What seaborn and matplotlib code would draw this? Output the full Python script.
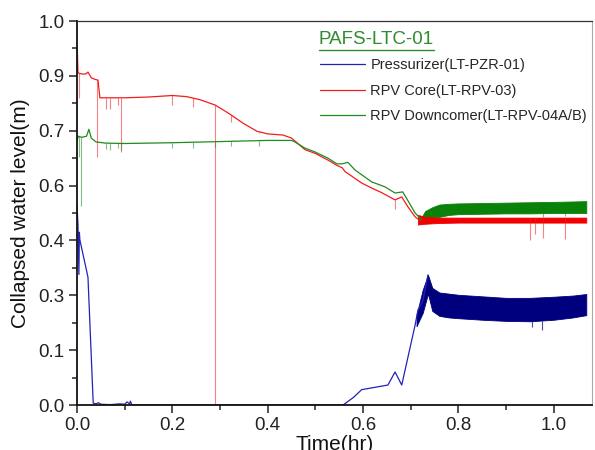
import numpy as np
import pandas as pd
import matplotlib
matplotlib.use("Agg")
import matplotlib.pyplot as plt
import seaborn as sns

# ---------------- data ----------------
# Pressurizer (LT-PZR-01) - line part
pzr_t = [0.0, 0.002, 0.004, 0.005, 0.006, 0.023, 0.034, 0.04, 0.045, 0.05, 0.07,
         0.09, 0.1, 0.105, 0.11, 0.112, 0.115, 0.12, 0.3, 0.558, 0.58, 0.597,
         0.62, 0.652, 0.667, 0.681, 0.695, 0.709, 0.715, 0.725, 0.736]
pzr_v = [0.52, 0.47, 0.34, 0.45, 0.43, 0.333, 0.005, 0.003, 0.006, 0.002, 0.001,
         0.003, 0.002, 0.008, 0.003, 0.010, 0.0, 0.0, 0.0, 0.0, 0.02, 0.04,
         0.045, 0.052, 0.086, 0.052, 0.13, 0.208, 0.247, 0.27, 0.339]
# Pressurizer - oscillating band (envelopes)
pzr_band_t = [0.712, 0.725, 0.736, 0.745, 0.76, 0.78, 0.80, 0.85, 0.90, 0.95, 1.00, 1.04, 1.068]
pzr_band_hi = [0.235, 0.30, 0.339, 0.305, 0.293, 0.290, 0.287, 0.283, 0.279, 0.279, 0.282, 0.285, 0.289]
pzr_band_lo = [0.205, 0.24, 0.29, 0.245, 0.232, 0.228, 0.226, 0.222, 0.219, 0.218, 0.222, 0.228, 0.234]
pzr_spike_t = [0.954, 0.975]
pzr_spike_lo = [0.203, 0.195]

# RPV Core (LT-RPV-03)
core_t = [0.0, 0.0005, 0.002, 0.01, 0.018, 0.023, 0.03, 0.038, 0.044, 0.048, 0.06,
          0.1, 0.15, 0.2, 0.23, 0.258, 0.29, 0.32, 0.348, 0.377, 0.40, 0.432, 0.45,
          0.478, 0.5, 0.526, 0.545, 0.556, 0.562, 0.597, 0.618, 0.639, 0.667, 0.681,
          0.694, 0.709, 0.72]
core_v = [0.87, 0.93, 0.865, 0.862, 0.862, 0.867, 0.852, 0.848, 0.846, 0.80, 0.80,
          0.80, 0.802, 0.806, 0.803, 0.795, 0.781, 0.758, 0.734, 0.713, 0.706, 0.703, 0.695,
          0.665, 0.655, 0.638, 0.624, 0.618, 0.608, 0.578, 0.565, 0.553, 0.534, 0.542,
          0.516, 0.49, 0.48]
core_band_t = [0.715, 0.73, 0.76, 0.80, 0.90, 1.00, 1.068]
core_band_hi = [0.495, 0.490, 0.488, 0.488, 0.488, 0.488, 0.488]
core_band_lo = [0.470, 0.472, 0.474, 0.475, 0.475, 0.475, 0.475]
core_spike_t = [0.004, 0.042, 0.06, 0.07, 0.087, 0.093, 0.2, 0.243, 0.29, 0.323,
                0.382, 0.667, 0.95, 0.96, 0.977, 1.023]
core_spike_lo = [0.80, 0.645, 0.77, 0.77, 0.78, 0.66, 0.78, 0.775, 0.0, 0.737,
                 0.708, 0.51, 0.43, 0.445, 0.435, 0.432]

# RPV Downcomer (LT-RPV-04A/B)
dc_t = [0.0, 0.003, 0.01, 0.02, 0.025, 0.03, 0.04, 0.06, 0.1, 0.2, 0.3, 0.4, 0.45,
        0.457, 0.478, 0.499, 0.526, 0.545, 0.556, 0.568, 0.583, 0.618, 0.646, 0.667,
        0.683, 0.695, 0.709, 0.723]
dc_v = [0.69, 0.70, 0.697, 0.70, 0.718, 0.695, 0.685, 0.682, 0.681, 0.683, 0.686, 0.689, 0.689,
        0.685, 0.669, 0.659, 0.643, 0.628, 0.628, 0.632, 0.612, 0.581, 0.568, 0.552,
        0.555, 0.53, 0.50, 0.482]
dc_band_t = [0.723, 0.73, 0.745, 0.76, 0.78, 0.80, 0.85, 0.90, 0.95, 1.00, 1.04, 1.068]
dc_band_hi = [0.490, 0.505, 0.515, 0.522, 0.524, 0.525, 0.526, 0.527, 0.528, 0.529, 0.530, 0.531]
dc_band_lo = [0.482, 0.485, 0.488, 0.490, 0.495, 0.497, 0.498, 0.499, 0.499, 0.500, 0.500, 0.500]
dc_spike_t = [0.004, 0.008, 0.06, 0.07, 0.087, 0.093, 0.2, 0.243, 0.29, 0.323, 0.382, 0.977, 1.023]
dc_spike_lo = [0.645, 0.518, 0.667, 0.664, 0.670, 0.665, 0.668, 0.670, 0.672, 0.675, 0.675, 0.49, 0.492]

series_names = ["Pressurizer(LT-PZR-01)", "RPV Core(LT-RPV-03)", "RPV Downcomer(LT-RPV-04A/B)"]
legend_title = "PAFS-LTC-01"
ytick_labels = ["0.0", "0.1", "0.3", "0.4", "0.6", "0.7", "0.9", "1.0"]
xtick_labels = ["0.0", "0.2", "0.4", "0.6", "0.8", "1.0"]

# ---------------- style ----------------
sns.set_theme(style="ticks")
plt.rcParams["font.family"] = ["Liberation Sans", "DejaVu Sans"]

c_blue, c_navy = "#2323b4", "#00007f"
c_red = "#f41c1c"
c_green, c_dgreen = "#1e8c1e", "#0a820a"

fig = plt.figure(figsize=(5.95, 4.5), dpi=100)
ax = fig.add_axes([77 / 595, 45 / 450, 515 / 595, 384 / 450])

# lines
sns.lineplot(x=pzr_t, y=pzr_v, ax=ax, color=c_blue, lw=0.9, sort=False, estimator=None)
sns.lineplot(x=core_t, y=core_v, ax=ax, color=c_red, lw=0.9, sort=False, estimator=None)
sns.lineplot(x=dc_t, y=dc_v, ax=ax, color=c_green, lw=0.9, sort=False, estimator=None)

# spikes
ax.vlines(core_spike_t, np.interp(core_spike_t, core_t + core_band_t, core_v + core_band_hi),
          core_spike_lo, color=c_red, lw=0.8, alpha=0.55)
ax.vlines(dc_spike_t, np.interp(dc_spike_t, dc_t + dc_band_t, dc_v + dc_band_lo),
          dc_spike_lo, color=c_green, lw=0.8, alpha=0.55)
ax.vlines(pzr_spike_t, np.interp(pzr_spike_t, pzr_band_t, pzr_band_lo),
          pzr_spike_lo, color=c_navy, lw=0.8, alpha=0.7)

# oscillating bands
ax.fill_between(dc_band_t, dc_band_lo, dc_band_hi, color=c_dgreen, lw=0.6, edgecolor=c_dgreen)
ax.fill_between(core_band_t, core_band_lo, core_band_hi, color="#f00000", lw=0.6, edgecolor="#f00000")
ax.fill_between(pzr_band_t, pzr_band_lo, pzr_band_hi, color=c_navy, lw=0.6, edgecolor=c_navy)

# axes
ax.set_xlim(0, 1.08)
ax.set_ylim(0, 1.0)
ax.set_xticks(np.linspace(0, 1.0, 6))
ax.set_xticklabels(xtick_labels)
ax.set_xticks(np.arange(0.1, 1.1, 0.2), minor=True)
ax.set_yticks(np.linspace(0, 1, 8))
ax.set_yticklabels(ytick_labels)
ax.set_yticks(np.linspace(0, 1, 15)[1::2], minor=True)
ax.tick_params(axis="both", which="major", direction="out", length=6, width=1.1,
               labelsize=13.5, colors="#222222", pad=3)
ax.tick_params(axis="both", which="minor", direction="out", length=3.5, width=1.1)
ax.tick_params(axis="both", which="both", labelcolor="#222222")
for s in ["left", "bottom"]:
    ax.spines[s].set_linewidth(1.3)
    ax.spines[s].set_color("#111111")
ax.spines["top"].set_linewidth(0.9)
ax.spines["top"].set_color("#333333")
ax.spines["right"].set_linewidth(0.8)
ax.spines["right"].set_color("#aaaaaa")
ax.set_xlabel("Time(hr)", fontsize=15, color="#111111", labelpad=0)
ax.set_ylabel("Collapsed water level(m)", fontsize=15, color="#111111", labelpad=6)

# legend
handles = ax.get_lines()[:3]
leg = ax.legend(handles, series_names, loc="upper left",
                bbox_to_anchor=((320 - 77) / 515, (405 - 58) / 384),
                frameon=False, fontsize=10.5, handlelength=3.1, handletextpad=0.35,
                labelspacing=0.8, borderpad=0, borderaxespad=0)
for h in leg.legend_handles:
    h.set_linewidth(0.9)
# legend title with underline
tx = (319 - 77) / 515
ax.text(tx, (405 - 40) / 384, legend_title, transform=ax.transAxes, fontsize=13.5,
        color="#2e8b2e", ha="left", va="center")
ax.plot([tx, (434 - 77) / 515], [(405 - 50) / 384] * 2, transform=ax.transAxes,
        color="#2e8b2e", lw=1.0, clip_on=False)

fig.savefig("out.png", dpi=100)
